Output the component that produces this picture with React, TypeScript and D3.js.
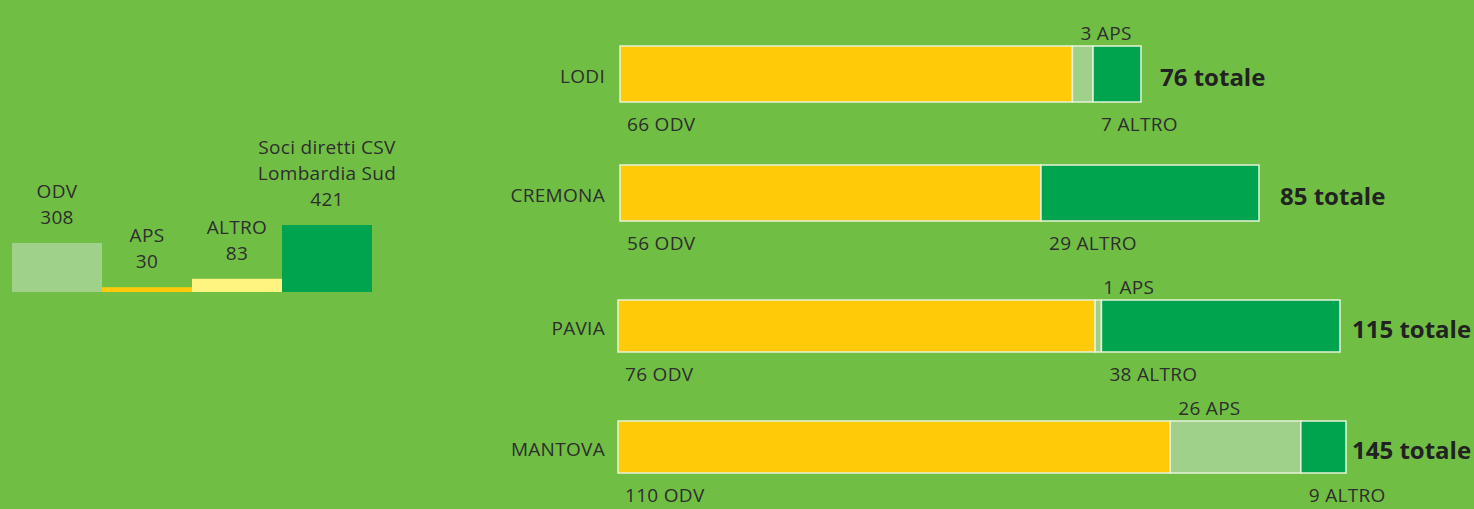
import React from "react";
import * as d3 from "d3";

// Left summary chart
const summaryCategories = ["ODV", "APS", "ALTRO", "Soci diretti CSV|Lombardia Sud"];
const summaryValues = [308, 30, 83, 421];

// Right stacked rows
const provinces = ["LODI", "CREMONA", "PAVIA", "MANTOVA"];
const odvValues = [66, 56, 76, 110];
const apsValues = [3, 0, 1, 26];
const altroValues = [7, 29, 38, 9];
const totals = [76, 85, 115, 145];

const W = 1474;
const H = 509;
const BG = "#70bf44";
const TXT = "#2e2e2e";
const FONT = "'Open Sans', 'Noto Sans', sans-serif";
const FS = 19;
const LS = 0.3;

const summaryColors = ["#9fd18b", "#ffcb08", "#fff47f", "#00a34e"];
const segColors = { odv: "#ffcb08", aps: "#9fd18b", altro: "#00a34e" };

// layout per row (bar extent and vertical placement)
const rowLayout = [
  { x0: 620, x1: 1141, y: 46, h: 56, totalDx: 19 },
  { x0: 620, x1: 1259, y: 165, h: 56, totalDx: 21 },
  { x0: 618, x1: 1340, y: 300, h: 52, totalDx: 12 },
  { x0: 618, x1: 1346, y: 421, h: 52, totalDx: 6 },
];

export default function App() {
  const xBand = d3
    .scaleBand<string>()
    .domain(summaryCategories)
    .range([12, 372])
    .padding(0);
  const yLin = d3.scaleLinear().domain([0, 421]).range([292, 225]);

  return (
    <svg
      width={W}
      height={H}
      style={{ position: "absolute", left: 0, top: 0 }}
      fontFamily={FONT}
    >
      <rect x={0} y={0} width={W} height={H} fill={BG} />
      {/* Left summary */}
      {summaryCategories.map((c, i) => {
        const v = summaryValues[i];
        const x = xBand(c)!;
        const bw = xBand.bandwidth();
        const top = yLin(v);
        const lines = c.split("|").concat([String(v)]);
        const base = top - 19;
        return (
          <g key={c}>
            <rect x={x} y={top} width={bw} height={yLin(0) - top} fill={summaryColors[i]} />
            {lines.map((l, j) => (
              <text
                key={j}
                x={x + bw / 2}
                y={base - (lines.length - 1 - j) * 26}
                textAnchor="middle"
                fontSize={FS}
                letterSpacing={LS}
                fill={TXT}
              >
                {l}
              </text>
            ))}
          </g>
        );
      })}

      {/* Right stacked rows */}
      {provinces.map((p, i) => {
        const L = rowLayout[i];
        const x = d3.scaleLinear().domain([0, totals[i]]).range([L.x0, L.x1]);
        const segs = [
          { key: "odv", v: odvValues[i], color: segColors.odv, label: `${odvValues[i]} ODV`, pos: "below" },
          { key: "aps", v: apsValues[i], color: segColors.aps, label: `${apsValues[i]} APS`, pos: "above" },
          { key: "altro", v: altroValues[i], color: segColors.altro, label: `${altroValues[i]} ALTRO`, pos: "below" },
        ];
        let acc = 0;
        const cy = L.y + L.h / 2;
        return (
          <g key={p}>
            <text x={605} y={cy + 9} textAnchor="end" fontSize={FS} letterSpacing={LS} fill={TXT}>
              {p}
            </text>
            {segs.map((s) => {
              const a = acc;
              acc += s.v;
              if (s.v <= 0) return null;
              const sx = x(a);
              const ex = x(acc);
              const lx = s.key === "odv" ? sx + 7 : sx + 8;
              const ly = s.pos === "below" ? L.y + L.h + 29 : L.y - 6;
              return (
                <g key={s.key}>
                  <rect
                    x={sx}
                    y={L.y}
                    width={ex - sx}
                    height={L.h}
                    fill={s.color}
                    stroke="#e6f2d8"
                    strokeWidth={1.5}
                  />
                  <text x={lx} y={ly} fontSize={FS} letterSpacing={LS} fill={TXT}>
                    {s.label}
                  </text>
                </g>
              );
            })}
            <text
              x={L.x1 + L.totalDx}
              y={cy + 12}
              fontSize={24}
              fontWeight="bold"
              fill="#222"
            >
              {`${totals[i]} totale`}
            </text>
          </g>
        );
      })}
    </svg>
  );
}
